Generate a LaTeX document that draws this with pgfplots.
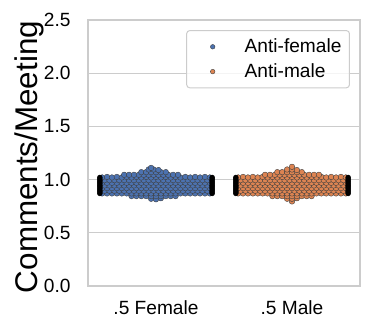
\documentclass[border=0pt]{standalone}
\usepackage{fontspec}
\setmainfont{Liberation Sans}
\usepackage{pgfplots}
\pgfplotsset{compat=1.18}
\definecolor{sbblue}{HTML}{4C72B0}
\definecolor{sborange}{HTML}{DD8452}
\definecolor{gridc}{HTML}{CCCCCC}
\begin{document}
\begin{tikzpicture}
\path (-88bp,-44bp) rectangle (286bp,286bp);
\begin{axis}[
  at={(0,0)}, anchor=south west,
  scale only axis, width=272bp, height=266bp,
  xmin=-0.5, xmax=1.5, ymin=0, ymax=2.5,
  xtick={0,1}, xticklabels={.5 Female,.5 Male},
  ytick={0,0.5,1,1.5,2,2.5},
  yticklabel style={/pgf/number format/fixed, /pgf/number format/fixed zerofill, /pgf/number format/precision=1, xshift=-14bp},
  /pgf/number format/assume math mode=true,
  ymajorgrids, grid style={gridc, line width=1.3bp},
  axis line style={gridc, line width=1.3bp},
  major tick length=0pt,
  tick label style={font=\fontsize{19.2}{23}\selectfont},
  xticklabel style={yshift=-11bp},
  ylabel={Comments/Meeting},
  ylabel style={at={(axis description cs:-0.217,0.485)}, anchor=center, font=\fontsize{31.5}{38}\selectfont},
  legend style={at={(0.963,0.962)}, anchor=north east, draw=gridc, line width=1bp,
    rounded corners=3bp, fill=white, fill opacity=0.8, text opacity=1,
    inner xsep=6bp, inner ysep=6.5bp, row sep=5.5bp,
    font=\fontsize{19.2}{23}\selectfont, cells={anchor=west}},
]
% Anti-female swarm (.5 Female)
\addplot[only marks, mark=*, mark size=2.8bp, mark options={fill=sbblue, draw=black!75, line width=0.4bp},
  legend image code/.code={\path[draw=none,fill=none] (0bp,-5bp) rectangle (50bp,5bp); \filldraw[fill=sbblue, fill opacity=1, draw=black!75, line width=0.4bp] (20bp,0) circle (2.3bp);}]
coordinates {
(-0.036,0.82) (0,0.815) (0.036,0.825)
(-0.180,0.845) (-0.144,0.845) (-0.108,0.845) (-0.072,0.845) (-0.036,0.845) (0,0.845) (0.036,0.845) (0.072,0.845) (0.108,0.845) (0.144,0.845)
(-0.396,0.87) (-0.360,0.87) (-0.324,0.87) (-0.288,0.87) (-0.252,0.87) (-0.216,0.87) (-0.180,0.87) (-0.144,0.87) (-0.108,0.87) (-0.072,0.87) (-0.036,0.87) (0,0.87) (0.036,0.87) (0.072,0.87) (0.108,0.87) (0.144,0.87) (0.180,0.87) (0.216,0.87) (0.252,0.87) (0.288,0.87) (0.324,0.87) (0.360,0.87) (0.396,0.87)
(-0.378,0.895) (-0.342,0.895) (-0.306,0.895) (-0.270,0.895) (-0.234,0.895) (-0.198,0.895) (-0.162,0.895) (-0.126,0.895) (-0.090,0.895) (-0.054,0.895) (-0.018,0.895) (0.018,0.895) (0.054,0.895) (0.090,0.895) (0.126,0.895) (0.162,0.895) (0.198,0.895) (0.234,0.895) (0.270,0.895) (0.306,0.895) (0.342,0.895) (0.378,0.895)
(-0.396,0.92) (-0.360,0.92) (-0.324,0.92) (-0.288,0.92) (-0.252,0.92) (-0.216,0.92) (-0.180,0.92) (-0.144,0.92) (-0.108,0.92) (-0.072,0.92) (-0.036,0.92) (0,0.92) (0.036,0.92) (0.072,0.92) (0.108,0.92) (0.144,0.92) (0.180,0.92) (0.216,0.92) (0.252,0.92) (0.288,0.92) (0.324,0.92) (0.360,0.92) (0.396,0.92)
(-0.378,0.945) (-0.342,0.945) (-0.306,0.945) (-0.270,0.945) (-0.234,0.945) (-0.198,0.945) (-0.162,0.945) (-0.126,0.945) (-0.090,0.945) (-0.054,0.945) (-0.018,0.945) (0.018,0.945) (0.054,0.945) (0.090,0.945) (0.126,0.945) (0.162,0.945) (0.198,0.945) (0.234,0.945) (0.270,0.945) (0.306,0.945) (0.342,0.945) (0.378,0.945)
(-0.396,0.97) (-0.360,0.97) (-0.324,0.97) (-0.288,0.97) (-0.252,0.97) (-0.216,0.97) (-0.180,0.97) (-0.144,0.97) (-0.108,0.97) (-0.072,0.97) (-0.036,0.97) (0,0.97) (0.036,0.97) (0.072,0.97) (0.108,0.97) (0.144,0.97) (0.180,0.97) (0.216,0.97) (0.252,0.97) (0.288,0.97) (0.324,0.97) (0.360,0.97) (0.396,0.97)
(-0.378,0.995) (-0.342,0.995) (-0.306,0.995) (-0.270,0.995) (-0.234,0.995) (-0.198,0.995) (-0.162,0.995) (-0.126,0.995) (-0.090,0.995) (-0.054,0.995) (-0.018,0.995) (0.018,0.995) (0.054,0.995) (0.090,0.995) (0.126,0.995) (0.162,0.995) (0.198,0.995) (0.234,0.995) (0.270,0.995) (0.306,0.995) (0.342,0.995) (0.378,0.995)
(-0.396,1.02) (-0.360,1.025) (-0.324,1.02) (-0.288,1.025) (-0.252,1.02) (-0.216,1.025) (-0.180,1.02) (-0.144,1.025) (-0.108,1.02) (-0.072,1.025) (-0.036,1.02) (0,1.025) (0.036,1.02) (0.072,1.025) (0.108,1.02) (0.144,1.025) (0.180,1.02) (0.216,1.025) (0.252,1.02) (0.288,1.025) (0.324,1.02) (0.360,1.025) (0.396,1.02)
(-0.234,1.045) (-0.198,1.045) (-0.162,1.045) (-0.126,1.045) (-0.090,1.045) (-0.054,1.045) (-0.018,1.045) (0.018,1.045) (0.054,1.045) (0.090,1.045) (0.126,1.045) (0.162,1.045)
(-0.108,1.07) (-0.072,1.07) (-0.036,1.07) (0,1.07) (0.036,1.07) (0.072,1.07)
(-0.054,1.095) (-0.018,1.095) (0.018,1.09)
(-0.036,1.11)
};
\addlegendentry{Anti-female}
\addplot[forget plot, only marks, mark=*, mark size=2.5bp, mark options={fill=black, draw=black, line width=0.4bp}]
coordinates {
(-0.413,0.87) (-0.413,0.885) (-0.413,0.90) (-0.413,0.915) (-0.413,0.93) (-0.413,0.945) (-0.413,0.96) (-0.413,0.975) (-0.413,0.99) (-0.413,1.005) (-0.413,1.02)
(0.413,0.87) (0.413,0.885) (0.413,0.90) (0.413,0.915) (0.413,0.93) (0.413,0.945) (0.413,0.96) (0.413,0.975) (0.413,0.99) (0.413,1.005) (0.413,1.02)
};
% Anti-male swarm (.5 Male)
\addplot[only marks, mark=*, mark size=2.8bp, mark options={fill=sborange, draw=black!75, line width=0.4bp},
  legend image code/.code={\path[draw=none,fill=none] (0bp,-5bp) rectangle (50bp,5bp); \filldraw[fill=sborange, fill opacity=1, draw=black!75, line width=0.4bp] (20bp,0) circle (2.3bp);}]
coordinates {
(1.0,0.795)
(0.964,0.82) (1.0,0.82) (1.036,0.825)
(0.856,0.845) (0.892,0.845) (0.928,0.845) (0.964,0.845) (1.0,0.845) (1.036,0.845) (1.072,0.845) (1.108,0.845) (1.144,0.845)
(0.604,0.87) (0.640,0.87) (0.676,0.87) (0.712,0.87) (0.748,0.87) (0.784,0.87) (0.820,0.87) (0.856,0.87) (0.892,0.87) (0.928,0.87) (0.964,0.87) (1.0,0.87) (1.036,0.87) (1.072,0.87) (1.108,0.87) (1.144,0.87) (1.180,0.87) (1.216,0.87) (1.252,0.87) (1.288,0.87) (1.324,0.87) (1.360,0.87) (1.396,0.87)
(0.622,0.895) (0.658,0.895) (0.694,0.895) (0.730,0.895) (0.766,0.895) (0.802,0.895) (0.838,0.895) (0.874,0.895) (0.910,0.895) (0.946,0.895) (0.982,0.895) (1.018,0.895) (1.054,0.895) (1.090,0.895) (1.126,0.895) (1.162,0.895) (1.198,0.895) (1.234,0.895) (1.270,0.895) (1.306,0.895) (1.342,0.895) (1.378,0.895)
(0.604,0.92) (0.640,0.92) (0.676,0.92) (0.712,0.92) (0.748,0.92) (0.784,0.92) (0.820,0.92) (0.856,0.92) (0.892,0.92) (0.928,0.92) (0.964,0.92) (1.0,0.92) (1.036,0.92) (1.072,0.92) (1.108,0.92) (1.144,0.92) (1.180,0.92) (1.216,0.92) (1.252,0.92) (1.288,0.92) (1.324,0.92) (1.360,0.92) (1.396,0.92)
(0.622,0.945) (0.658,0.945) (0.694,0.945) (0.730,0.945) (0.766,0.945) (0.802,0.945) (0.838,0.945) (0.874,0.945) (0.910,0.945) (0.946,0.945) (0.982,0.945) (1.018,0.945) (1.054,0.945) (1.090,0.945) (1.126,0.945) (1.162,0.945) (1.198,0.945) (1.234,0.945) (1.270,0.945) (1.306,0.945) (1.342,0.945) (1.378,0.945)
(0.604,0.97) (0.640,0.97) (0.676,0.97) (0.712,0.97) (0.748,0.97) (0.784,0.97) (0.820,0.97) (0.856,0.97) (0.892,0.97) (0.928,0.97) (0.964,0.97) (1.0,0.97) (1.036,0.97) (1.072,0.97) (1.108,0.97) (1.144,0.97) (1.180,0.97) (1.216,0.97) (1.252,0.97) (1.288,0.97) (1.324,0.97) (1.360,0.97) (1.396,0.97)
(0.622,0.995) (0.658,0.995) (0.694,0.995) (0.730,0.995) (0.766,0.995) (0.802,0.995) (0.838,0.995) (0.874,0.995) (0.910,0.995) (0.946,0.995) (0.982,0.995) (1.018,0.995) (1.054,0.995) (1.090,0.995) (1.126,0.995) (1.162,0.995) (1.198,0.995) (1.234,0.995) (1.270,0.995) (1.306,0.995) (1.342,0.995) (1.378,0.995)
(0.604,1.02) (0.640,1.025) (0.676,1.02) (0.712,1.025) (0.748,1.02) (0.784,1.025) (0.820,1.02) (0.856,1.025) (0.892,1.02) (0.928,1.025) (0.964,1.02) (1.0,1.025) (1.036,1.02) (1.072,1.025) (1.108,1.02) (1.144,1.025) (1.180,1.02) (1.216,1.025) (1.252,1.02) (1.288,1.025) (1.324,1.02) (1.360,1.025) (1.396,1.02)
(0.802,1.045) (0.838,1.045) (0.874,1.045) (0.910,1.045) (0.946,1.045) (0.982,1.045) (1.018,1.045) (1.054,1.045) (1.090,1.045) (1.126,1.045) (1.162,1.045) (1.198,1.045)
(0.892,1.07) (0.928,1.07) (0.964,1.07) (1.0,1.07) (1.036,1.07) (1.072,1.07)
(0.964,1.095) (1.0,1.095) (1.036,1.09)
(1.0,1.12)
};
\addlegendentry{Anti-male}
\addplot[forget plot, only marks, mark=*, mark size=2.5bp, mark options={fill=black, draw=black, line width=0.4bp}]
coordinates {
(0.587,0.87) (0.587,0.885) (0.587,0.90) (0.587,0.915) (0.587,0.93) (0.587,0.945) (0.587,0.96) (0.587,0.975) (0.587,0.99) (0.587,1.005) (0.587,1.02)
(1.413,0.87) (1.413,0.885) (1.413,0.90) (1.413,0.915) (1.413,0.93) (1.413,0.945) (1.413,0.96) (1.413,0.975) (1.413,0.99) (1.413,1.005) (1.413,1.02)
};
\end{axis}
\end{tikzpicture}
\end{document}
